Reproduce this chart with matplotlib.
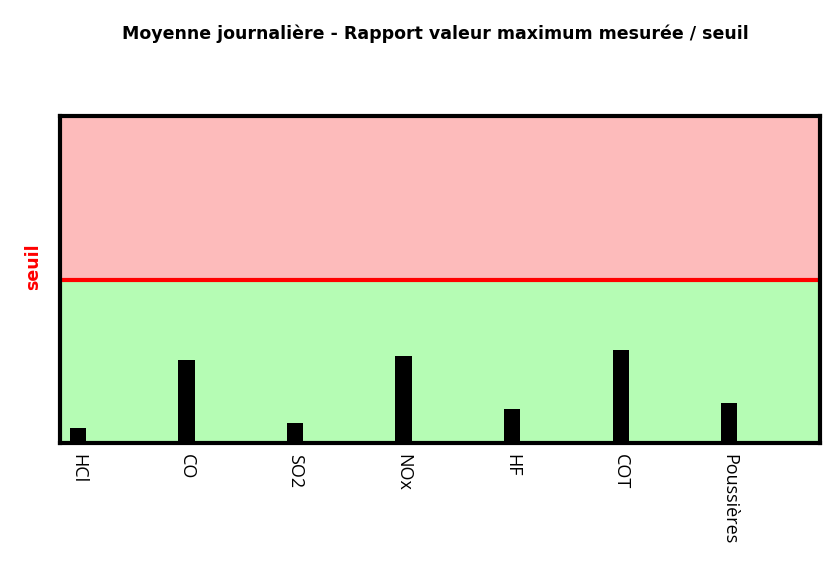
import numpy as np
import matplotlib.pyplot as plt

categories = ["HCl", "CO", "SO2", "NOx", "HF", "COT", "Poussières"]
ratios = [0.09, 0.51, 0.12, 0.53, 0.21, 0.57, 0.245]
seuil = 1.0

fig = plt.figure(figsize=(8.27, 5.62), dpi=100)
ax = fig.add_axes([0.0726, 0.2117, 0.9189, 0.5819])

x = np.arange(len(categories))
ax.axhspan(0, seuil, color='#b5fcb4', zorder=0)
ax.axhspan(seuil, 2 * seuil, color='#fdbbbb', zorder=0)
ax.axhline(seuil, color='#ff0000', linewidth=3, zorder=2)
ax.bar(x, ratios, width=0.15, color='black', zorder=3)

ax.set_xlim(-0.165, 6.835)
ax.set_ylim(0, 2 * seuil)
ax.set_xticks(x)
ax.set_xticklabels(categories, rotation=270, fontsize=13, family='Open Sans')
ax.tick_params(axis='x', length=0, pad=8)
ax.set_yticks([])
for s in ax.spines.values():
    s.set_linewidth(3)
ax.set_ylabel("seuil", color='#ff0000', fontsize=12.5, fontweight='bold')
ax.yaxis.set_label_coords(-0.024, 0.54)

fig.text(0.527, 0.94, "Moyenne journalière - Rapport valeur maximum mesurée / seuil",
         ha='center', va='center', fontsize=12.5, fontweight='bold')

fig.savefig("out.png", dpi=100)
